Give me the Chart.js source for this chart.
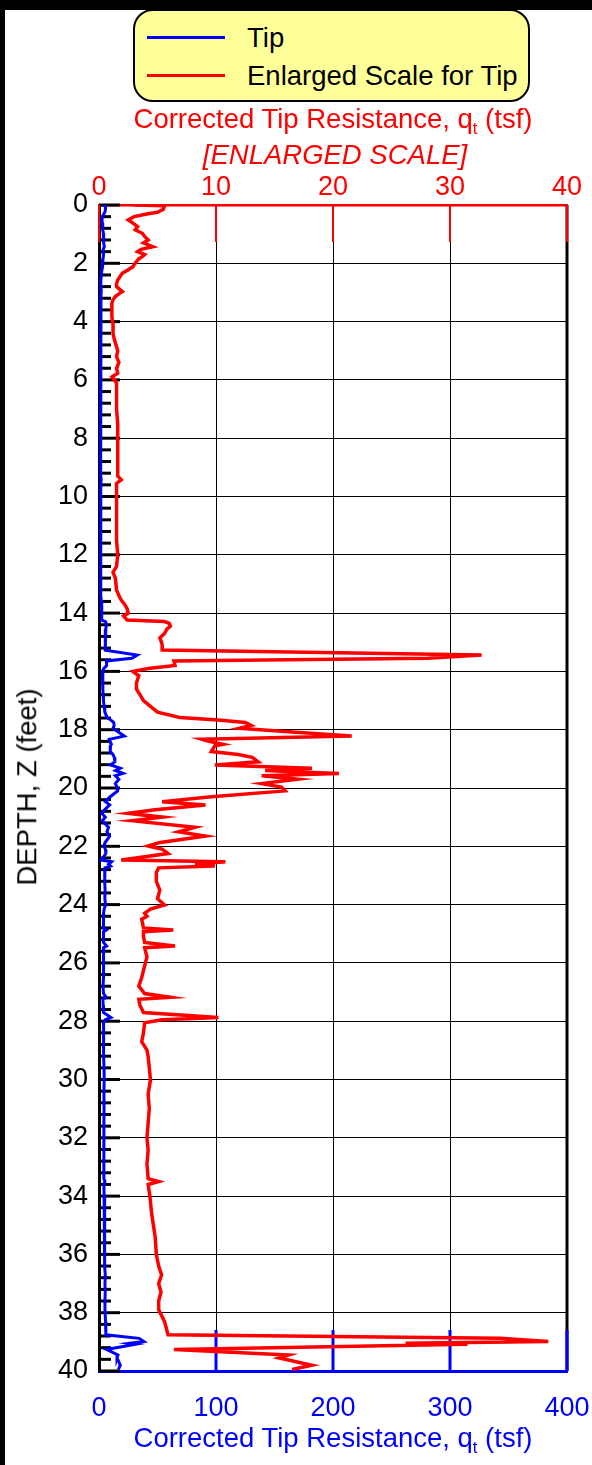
<!DOCTYPE html>
<html>
<head>
<meta charset="utf-8">
<script src="https://cdn.jsdelivr.net/npm/chart.js@4.4.0/dist/chart.umd.min.js"></script>
<style>
  html, body { margin: 0; padding: 0; background: #fff; overflow: hidden; }
  #page { position: relative; width: 592px; height: 1465px; font-family: "Liberation Sans", Arial, sans-serif; }
  #chart { position: absolute; left: 0; top: 0; }
  .band { position: absolute; background: #000; }
  .lbl { position: absolute; white-space: nowrap; font-size: 27.5px; line-height: 1; transform: translate(-50%, -50%); }
  .lbl sub { font-size: 60%; vertical-align: -0.35em; line-height: 0; }
  #legend { position: absolute; left: 133px; top: 9px; width: 397px; height: 93px; box-sizing: border-box;
            border: 2.5px solid #000; border-radius: 20px; background: #ffff99; }
  .swatch { position: absolute; left: 12px; width: 78px; height: 3px; }
  .ltext { position: absolute; left: 112px; font-size: 27.5px; line-height: 1; transform: translateY(-50%); white-space: nowrap; }
</style>
</head>
<body>
<div id="page">
  <canvas id="chart" width="592" height="1465"></canvas>
  <div class="band" style="left:0;top:0;width:592px;height:10px"></div>
  <div class="band" style="left:0;top:0;width:5px;height:1465px"></div>

  <div id="legend">
    <div class="swatch" style="top:25px;background:#0000ff"></div>
    <div class="ltext" style="top:27px">Tip</div>
    <div class="swatch" style="top:63px;background:#ff0000"></div>
    <div class="ltext" style="top:65px">Enlarged Scale for Tip</div>
  </div>

  <div class="lbl" style="left:333px;top:119px;color:#ff0000">Corrected Tip Resistance, q<sub>t</sub> (tsf)</div>
  <div class="lbl" style="left:335px;top:155px;color:#ff0000;font-style:italic">[ENLARGED SCALE]</div>
  <div class="lbl" style="left:333px;top:1438px;color:#0000ff">Corrected Tip Resistance, q<sub>t</sub> (tsf)</div>
  <div class="lbl" style="left:27px;top:787px;transform:translate(-50%,-50%) rotate(-90deg)">DEPTH, Z (feet)</div>
</div>

<script>
// depth (ft) and corrected tip resistance qt (tsf)
const depthFt = [
  0.00, 0.03, 0.15, 0.25, 0.30, 0.40, 0.51, 0.62, 0.74, 0.85, 0.97, 1.08, 1.20, 1.30, 1.43, 1.52,
  1.60, 1.70, 1.77, 1.85, 1.94, 2.05, 2.12, 2.25, 2.34, 2.45, 2.57, 2.70, 2.80, 2.90, 2.97, 3.05,
  3.14, 3.25, 3.37, 3.60, 3.83, 4.10, 4.40, 4.60, 4.86, 5.00, 5.20, 5.40, 5.60, 5.77, 5.90, 6.00,
  6.10, 6.50, 7.00, 7.50, 8.00, 8.50, 9.00, 9.30, 9.43, 9.55, 10.00, 10.50, 11.00, 11.50, 12.00,
  12.40, 12.60, 12.80, 13.20, 13.40, 13.55, 13.70, 13.85, 14.00, 14.10, 14.24, 14.29, 14.35, 14.45,
  14.55, 14.70, 14.85, 14.95, 15.10, 15.27, 15.44, 15.55, 15.64, 15.80, 15.90, 16.00, 16.15, 16.40,
  16.60, 16.80, 17.00, 17.20, 17.40, 17.58, 17.67, 17.75, 17.85, 17.95, 18.05, 18.22, 18.33, 18.40,
  18.50, 18.55, 18.75, 18.85, 18.95, 19.10, 19.21, 19.32, 19.40, 19.50, 19.58, 19.70, 19.85, 19.97,
  20.10, 20.30, 20.47, 20.58, 20.75, 20.87, 21.00, 21.12, 21.35, 21.50, 21.65, 21.88, 21.99, 22.10,
  22.25, 22.47, 22.53, 22.62, 22.68, 22.74, 22.90, 23.20, 23.50, 23.80, 24.01, 24.15, 24.30, 24.40,
  24.50, 24.80, 24.87, 24.93, 25.10, 25.30, 25.42, 25.48, 25.80, 26.10, 26.50, 26.80, 27.05, 27.18,
  27.25, 27.45, 27.70, 27.87, 27.95, 28.05, 28.40, 28.70, 28.99, 29.21, 29.60, 30.02, 30.50, 31.00,
  31.50, 32.00, 32.42, 32.90, 33.40, 33.50, 33.60, 34.00, 34.60, 35.40, 36.00, 36.40, 36.70, 37.00,
  37.30, 37.60, 37.90, 38.30, 38.60, 38.76, 38.88, 38.99, 39.05, 39.08, 39.26, 39.45, 39.55, 39.80,
  39.95
];
const tipQt = [
  3.0, 5.6, 5.5, 5.0, 4.2, 3.0, 2.5, 2.9, 3.3, 3.1, 3.7, 3.9, 4.2, 3.8, 4.6, 3.6,
  3.3, 3.9, 3.7, 3.4, 3.2, 3.0, 2.9, 2.4, 2.0, 1.8, 1.6, 1.5, 1.5, 1.8, 2.0, 1.7,
  1.4, 1.2, 1.1, 1.1, 1.1, 1.2, 1.2, 1.3, 1.5, 1.6, 1.5, 1.7, 1.5, 1.6, 1.1, 1.3,
  1.5, 1.5, 1.5, 1.6, 1.6, 1.6, 1.6, 1.6, 1.9, 1.5, 1.5, 1.5, 1.5, 1.5, 1.6,
  1.5, 1.2, 1.4, 1.5, 1.7, 1.9, 2.2, 2.4, 2.5, 2.1, 2.4, 5.6, 6.0, 6.1,
  5.8, 5.6, 5.2, 5.3, 5.4, 5.4, 32.7, 28.1, 6.4, 6.5, 4.2, 2.9, 3.4, 3.2,
  3.2, 3.5, 3.8, 4.4, 5.0, 6.9, 10.2, 12.5, 13.0, 12.0, 15.6, 21.6, 8.8, 9.4,
  10.6, 9.9, 9.6, 11.9, 13.1, 13.6, 9.9, 18.2, 14.2, 20.5, 13.9, 17.0, 13.9, 15.6,
  15.9, 9.6, 5.4, 9.1, 4.8, 2.5, 5.4, 2.8, 8.2, 6.8, 9.1, 5.1, 4.2, 5.4,
  5.9, 1.9, 10.8, 8.2, 9.9, 5.1, 4.9, 4.9, 5.2, 5.0, 5.6, 4.4, 3.9, 4.1,
  3.65, 3.8, 6.35, 3.8, 3.8, 3.9, 6.5, 3.9, 4.1, 3.9, 3.65, 3.4, 3.9, 6.1,
  3.4, 3.5, 3.8, 10.2, 5.4, 3.9, 3.8, 3.65, 4.1, 4.2, 4.3, 4.4, 4.2, 4.3,
  4.2, 4.1, 4.2, 4.1, 4.2, 5.1, 4.2, 4.35, 4.5, 4.8, 4.9, 5.1, 5.35, 5.1,
  5.3, 5.1, 5.1, 5.6, 5.8, 5.9, 34.3, 38.4, 26.2, 31.5, 6.4, 16.2, 15.4, 18.2,
  16.5
];
const depthTicks = [0, 2, 4, 6, 8, 10, 12, 14, 16, 18, 20, 22, 24, 26, 28, 30, 32, 34, 36, 38, 40];
const enlargedTicks = [0, 10, 20, 30, 40];
const tipTicks = [0, 100, 200, 300, 400];

const points = depthFt.map((d, i) => ({ x: tipQt[i], y: d }));
const FONT = { family: '"Liberation Sans", Arial, sans-serif', size: 27 };

// axis decorations: inward depth ticks, short coloured ticks at top / bottom, right frame
const axisMarks = {
  id: 'axisMarks',
  beforeDatasetsDraw(chart) {
    const { ctx, chartArea: a, scales } = chart;
    ctx.save();
    ctx.strokeStyle = '#000';
    ctx.lineWidth = 3;
    ctx.beginPath();
    ctx.moveTo(a.right, a.top);
    ctx.lineTo(a.right, a.bottom);
    ctx.stroke();
    for (let i = 0; i <= 100; i++) {
      const y = scales.y.getPixelForValue(i * 0.4);
      const len = i % 5 === 0 ? 21 : 12;
      ctx.beginPath();
      ctx.moveTo(a.left, y);
      ctx.lineTo(a.left + len, y);
      ctx.stroke();
    }
    ctx.strokeStyle = '#ff0000';
    ctx.lineWidth = 2;
    enlargedTicks.forEach(v => {
      const x = scales.x2.getPixelForValue(v);
      ctx.beginPath();
      ctx.moveTo(x, a.top);
      ctx.lineTo(x, a.top + 37);
      ctx.stroke();
    });
    ctx.strokeStyle = '#0000ff';
    ctx.lineWidth = 3;
    tipTicks.slice(1).forEach(v => {
      const x = scales.x.getPixelForValue(v);
      ctx.beginPath();
      ctx.moveTo(x, a.bottom);
      ctx.lineTo(x, a.bottom - 41);
      ctx.stroke();
    });
    ctx.restore();
  }
};

// fixed axis boxes so the plot area lands where the reference has it
function fixHeight(h) {
  return s => { s.height = h; s.paddingLeft = 0; s.paddingRight = 0; };
}

new Chart(document.getElementById('chart'), {
  type: 'scatter',
  data: {
    datasets: [
      {
        label: 'Enlarged Scale for Tip',
        data: points,
        xAxisID: 'x2',
        yAxisID: 'y',
        showLine: true,
        borderColor: '#ff0000',
        borderWidth: 3.5,
        pointRadius: 0,
        tension: 0
      },
      {
        label: 'Tip',
        data: points,
        xAxisID: 'x',
        yAxisID: 'y',
        showLine: true,
        borderColor: '#0000ff',
        borderWidth: 3,
        pointRadius: 0,
        tension: 0
      }
    ]
  },
  options: {
    responsive: false,
    animation: false,
    layout: { padding: { left: 0, top: 0, right: 25, bottom: 0 } },
    plugins: { legend: { display: false }, tooltip: { enabled: false } },
    scales: {
      y: {
        type: 'linear',
        position: 'left',
        reverse: true,
        min: 0,
        max: 40,
        afterFit: s => { s.width = 99; s.paddingTop = 0; s.paddingBottom = 0; },
        afterBuildTicks: s => { s.ticks = depthTicks.map(v => ({ value: v })); },
        ticks: { font: FONT, color: '#000', padding: 11 },
        grid: { color: '#000', lineWidth: 1, drawTicks: false },
        border: { color: '#000', width: 3 }
      },
      x: {
        type: 'linear',
        position: 'bottom',
        min: 0,
        max: 400,
        afterFit: fixHeight(94),
        afterBuildTicks: s => { s.ticks = tipTicks.map(v => ({ value: v })); },
        ticks: { font: FONT, color: '#0000ff', padding: 13, maxRotation: 0 },
        grid: { display: false },
        border: { color: '#0000ff', width: 3 }
      },
      x2: {
        type: 'linear',
        position: 'top',
        min: 0,
        max: 40,
        afterFit: fixHeight(205),
        afterBuildTicks: s => { s.ticks = enlargedTicks.map(v => ({ value: v })); },
        ticks: { font: FONT, color: '#ff0000', padding: 1, maxRotation: 0 },
        grid: { color: '#000', lineWidth: 1, drawTicks: false },
        border: { color: '#ff0000', width: 2.5 }
      }
    }
  },
  plugins: [axisMarks]
});
</script>
</body>
</html>
